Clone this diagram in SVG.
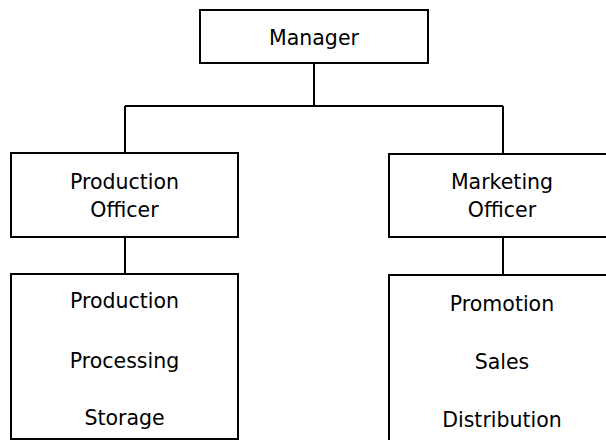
<svg xmlns="http://www.w3.org/2000/svg" width="606" height="440" viewBox="0 0 606 440">
<style>
.box{fill:#fff;stroke:#000;stroke-width:2}
.lbl{font-family:"DejaVu Sans",Tahoma,sans-serif;font-size:20.5px;fill:#000;text-anchor:middle}
.conn{fill:none;stroke:#000;stroke-width:2}
</style>
<rect width="606" height="440" fill="#fff"/>
<g id="connectors">
<path class="conn" d="M314 63V106M125 106H503M125 106V153M503 106V154M125 237V274M503 237V275"/>
</g>
<g id="manager">
<rect class="box" x="200" y="10" width="228" height="53"/>
<text class="lbl" x="314" y="45">Manager</text>
</g>
<g id="production-officer">
<rect class="box" x="11" y="153" width="227" height="84"/>
<text class="lbl" x="124.5" y="189">Production</text>
<text class="lbl" x="124.5" y="217">Officer</text>
</g>
<g id="marketing-officer">
<rect class="box" x="389" y="154" width="228" height="83"/>
<text class="lbl" x="502" y="189">Marketing</text>
<text class="lbl" x="502" y="217">Officer</text>
</g>
<g id="production-tasks">
<rect class="box" x="11" y="274" width="227" height="165"/>
<text class="lbl" x="124.5" y="308">Production</text>
<text class="lbl" x="124.5" y="368">Processing</text>
<text class="lbl" x="124.5" y="425">Storage</text>
</g>
<g id="marketing-tasks">
<rect class="box" x="389" y="275" width="228" height="175"/>
<text class="lbl" x="502" y="311">Promotion</text>
<text class="lbl" x="502" y="369">Sales</text>
<text class="lbl" x="502" y="427">Distribution</text>
</g>
</svg>
